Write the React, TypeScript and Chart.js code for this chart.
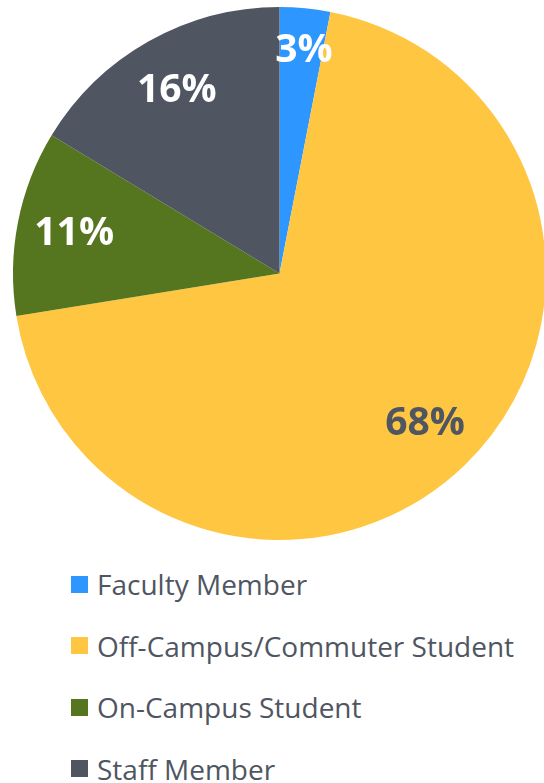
import React, { useEffect, useRef } from "react";
import { Chart, registerables } from "chart.js";

Chart.register(...registerables);

const categories = ["Faculty Member", "Off-Campus/Commuter Student", "On-Campus Student", "Staff Member"];
const values = [3, 68, 11, 16];
const labelTexts = ["3%", "68%", "11%", "16%"];
const colors = ["#2E97FF", "#FFC642", "#55761F", "#4F5661"];
const labelColors = ["#FFFFFF", "#4F5661", "#FFFFFF", "#FFFFFF"];

const TEXT = "#4F5661";

const labelPlugin = {
  id: "sliceLabels",
  afterDatasetsDraw(chart: any) {
    const meta = chart.getDatasetMeta(0);
    const ctx = chart.ctx;
    ctx.save();
    ctx.font = "bold 39px 'Open Sans', sans-serif";
    ctx.textAlign = "center";
    ctx.textBaseline = "middle";
    meta.data.forEach((arc: any, i: number) => {
      const mid = (arc.startAngle + arc.endAngle) / 2;
      const span = arc.endAngle - arc.startAngle;
      const f = span < 0.3 ? 0.84 : 0.785;
      const r = arc.outerRadius * f;
      const x = arc.x + Math.cos(mid) * r;
      const y = arc.y + Math.sin(mid) * r;
      ctx.fillStyle = labelColors[i];
      ctx.fillText(labelTexts[i], x + (span < 0.3 ? 3 : 0), y);
    });
    ctx.restore();
  },
};

export default function App() {
  const ref = useRef<HTMLCanvasElement>(null);
  useEffect(() => {
    if (!ref.current) return;
    const chart = new Chart(ref.current, {
      type: "pie",
      data: {
        labels: categories,
        datasets: [
          {
            data: values,
            backgroundColor: colors,
            borderWidth: 0,
          },
        ],
      },
      options: {
        animation: false,
        responsive: false,
        layout: { padding: { left: 13, right: 14, top: 7, bottom: 5 } },
        plugins: { legend: { display: false }, tooltip: { enabled: false } },
      },
      plugins: [labelPlugin],
    });
    return () => chart.destroy();
  }, []);

  return (
    <div style={{ position: "absolute", left: 0, top: 0, width: 544, height: 783, overflow: "hidden", background: "#fff" }}>
      <canvas ref={ref} width={560} height={545} style={{ position: "absolute", left: 0, top: 0, width: 560, height: 545 }} />
      {categories.map((c, i) => (
        <div
          key={c}
          style={{
            position: "absolute",
            left: 71,
            top: 584 + i * 61.5 - 20,
            height: 40,
            display: "flex",
            alignItems: "center",
            fontFamily: "'Open Sans', sans-serif",
            fontSize: 28,
            color: TEXT,
            whiteSpace: "nowrap",
          }}
        >
          <span style={{ display: "inline-block", width: 17, height: 17, background: colors[i], marginRight: 9 }} />
          <span>{c}</span>
        </div>
      ))}
    </div>
  );
}
